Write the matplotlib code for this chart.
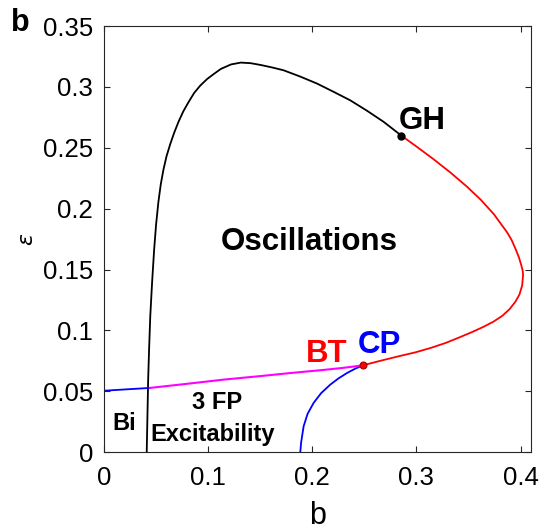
import matplotlib
matplotlib.use("Agg")
from matplotlib import pyplot as plt

plt.rcParams['font.family'] = ['Liberation Sans', 'DejaVu Sans']
plt.rcParams['mathtext.fontset'] = 'dejavusans'

# Hopf curve (black part, up to GH)
hopf_b = [0.0410, 0.0417, 0.0424, 0.0433, 0.0444, 0.0462, 0.0481, 0.0500, 0.0522,
          0.0545, 0.0570, 0.0600, 0.0635, 0.0673, 0.0715, 0.0760, 0.0808, 0.0865,
          0.0923, 0.0990, 0.1060, 0.1122, 0.1220, 0.1314, 0.1410, 0.1507, 0.1615,
          0.1724, 0.1885, 0.2045, 0.2205, 0.2365, 0.2525, 0.2686, 0.2856]
hopf_e = [0.000, 0.030, 0.060, 0.085, 0.1115, 0.140, 0.166, 0.187, 0.2054,
          0.220, 0.2318, 0.2430, 0.2528, 0.2622, 0.2713, 0.2797, 0.2870, 0.2950,
          0.3010, 0.3065, 0.3110, 0.3148, 0.3185, 0.3200, 0.3195, 0.3180, 0.3160,
          0.3137, 0.3085, 0.3028, 0.2960, 0.2890, 0.2805, 0.2713, 0.2600]

# Hopf curve (red part, GH -> BT)
red_b = [0.2856, 0.3010, 0.3167, 0.3330, 0.3487, 0.3620, 0.3744, 0.3872, 0.3915,
         0.3952, 0.3985, 0.4006, 0.4020, 0.4025, 0.4016, 0.3990, 0.3950, 0.3895,
         0.3825, 0.3740, 0.3640, 0.3530, 0.3410, 0.3280, 0.3140, 0.2990, 0.2830,
         0.2660, 0.2484]
red_e = [0.2600, 0.2505, 0.2405, 0.2295, 0.2180, 0.2072, 0.1955, 0.1805, 0.1742,
         0.1670, 0.1600, 0.1540, 0.1495, 0.1457, 0.1370, 0.1295, 0.1235, 0.1175,
         0.1120, 0.1072, 0.1028, 0.0985, 0.0942, 0.0897, 0.0857, 0.0820, 0.0788,
         0.0752, 0.0713]

# fold curves
fold_low_b = [0.1885, 0.1893, 0.1917, 0.1955, 0.2013, 0.2085, 0.2173, 0.2250, 0.2333, 0.2410, 0.2484]
fold_low_e = [0.000, 0.008, 0.0213, 0.0315, 0.0405, 0.0485, 0.0555, 0.0605, 0.0650, 0.0685, 0.0713]
fold_left_b = [0.0, 0.0442]
fold_left_e = [0.0505, 0.0528]
fold_mag_b = [0.0442, 0.0800, 0.1147, 0.1500, 0.1788, 0.2100, 0.2300, 0.2484]
fold_mag_e = [0.0528, 0.0562, 0.0596, 0.0625, 0.0650, 0.0675, 0.0693, 0.0713]

gh = (0.2856, 0.2600)
bt = (0.2484, 0.0713)

fig = plt.figure(figsize=(5.39, 5.32), dpi=100)
ax = fig.add_axes([0.193, 0.150, 0.792, 0.801])

ax.plot(hopf_b, hopf_e, color='black', lw=1.3)
ax.plot(red_b, red_e, color='red', lw=1.3)
ax.plot(fold_low_b, fold_low_e, color='blue', lw=1.3)
ax.plot(fold_left_b, fold_left_e, color='blue', lw=1.3)
ax.plot(fold_mag_b, fold_mag_e, color='magenta', lw=1.5)

ax.plot(*gh, 'o', color='black', ms=5, zorder=5)
ax.plot(*bt, 'o', color='#22aa22', ms=3, zorder=4)
ax.plot(*bt, 'o', mfc='red', mec='#aa0000', mew=0.8, ms=5, zorder=5)

fs = 22.5
ax.text(0.197, 0.166, 'Oscillations', fontsize=fs, fontweight='bold', ha='center')
ax.text(0.2827, 0.2653, 'GH', fontsize=fs, fontweight='bold')
ax.text(0.1942, 0.0743, 'BT', fontsize=fs, fontweight='bold', color='red')
ax.text(0.2433, 0.0817, 'CP', fontsize=fs, fontweight='bold', color='blue')
ax.text(0.0846, 0.0358, '3 FP', fontsize=17, fontweight='bold')
ax.text(0.0442, 0.0090, 'Excitability', fontsize=17, fontweight='bold')
ax.text(0.0077, 0.0186, 'Bi', fontsize=17, fontweight='bold')

ax.set_xlim(0, 0.41)
ax.set_ylim(0, 0.35)
ax.set_xticks([0, 0.1, 0.2, 0.3, 0.4])
ax.set_xticklabels(['0', '0.1', '0.2', '0.3', '0.4'])
ax.set_yticks([0, 0.05, 0.1, 0.15, 0.2, 0.25, 0.3, 0.35])
ax.set_yticklabels(['0', '0.05', '0.1', '0.15', '0.2', '0.25', '0.3', '0.35'])
ax.tick_params(direction='in', top=True, right=True, length=4, width=0.8,
               colors='#262626', labelsize=18.5, labelcolor='black')
ax.tick_params(axis='y', pad=8)
ax.tick_params(axis='x', pad=10)
for s in ax.spines.values():
    s.set_color('#262626')
    s.set_linewidth(0.8)

ax.set_xlabel('b', fontsize=22, labelpad=8)
ax.set_ylabel(r'$\epsilon$', fontsize=16, labelpad=3.5)

fig.text(11 / 539, 1 - 31 / 532, 'b', fontsize=22, fontweight='bold')

fig.savefig('out.png', dpi=100)
